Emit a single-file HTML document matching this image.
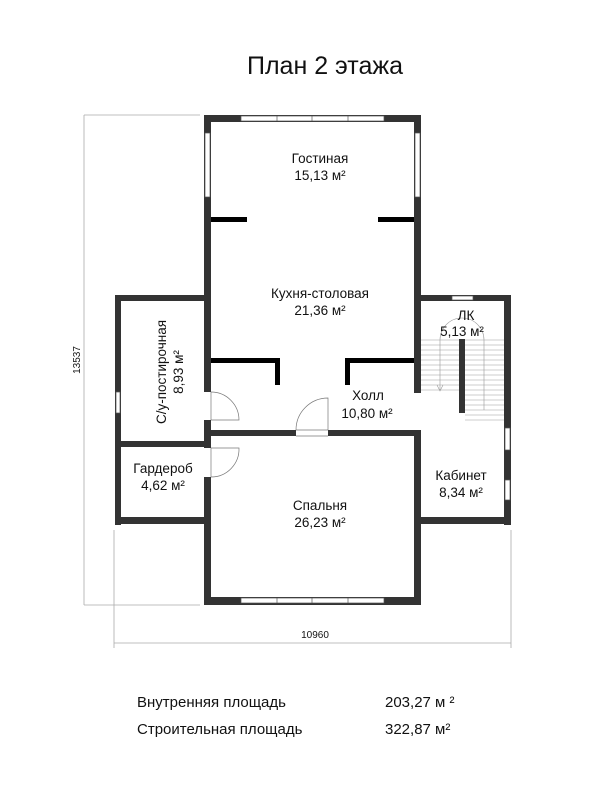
<!DOCTYPE html>
<html><head><meta charset="utf-8"><style>
html,body{margin:0;padding:0;background:#fff;}
svg{display:block;}
text{font-family:"Liberation Sans",sans-serif;fill:#111;}
</style></head><body>
<svg width="600" height="800" viewBox="0 0 600 800" xmlns="http://www.w3.org/2000/svg">
<rect width="600" height="800" fill="#fff"/>
<text x="325" y="74" font-size="25" text-anchor="middle">План 2 этажа</text>

<!-- dimension lines -->
<g stroke="#aaa" stroke-width="0.8" fill="none">
<line x1="84" y1="115" x2="84" y2="605"/>
<line x1="84" y1="115" x2="200" y2="115"/>
<line x1="84" y1="605" x2="200" y2="605"/>
<line x1="114" y1="530" x2="114" y2="648"/>
<line x1="511" y1="530" x2="511" y2="648"/>
<line x1="114" y1="643" x2="511" y2="643"/>
</g>
<text transform="translate(80,360) rotate(-90)" font-size="10" text-anchor="middle">13537</text>
<text x="315" y="638" font-size="10" text-anchor="middle">10960</text>

<!-- outer walls -->
<g fill="#333">
<rect x="204" y="115" width="217" height="7"/>
<rect x="204" y="115" width="7" height="277"/>
<rect x="204" y="420" width="7" height="28"/>
<rect x="204" y="477" width="7" height="128"/>
<rect x="414" y="115" width="7" height="278"/>
<rect x="414" y="430" width="7" height="175"/>
<rect x="204" y="597" width="217" height="8"/>
<rect x="115" y="295" width="96" height="6"/>
<rect x="115" y="295" width="6" height="230"/>
<rect x="115" y="517" width="96" height="7"/>
<rect x="414" y="295" width="97" height="6"/>
<rect x="504" y="295" width="7" height="230"/>
<rect x="414" y="517" width="97" height="7"/>
<rect x="121" y="441" width="83" height="6"/>
<rect x="211" y="430" width="85" height="6"/>
<rect x="328" y="430" width="86" height="6"/>
<rect x="459" y="339" width="6" height="74"/>
</g>
<g fill="#000">
<rect x="211" y="217" width="36" height="5"/>
<rect x="378" y="217" width="36" height="5"/>
<rect x="211" y="358" width="69" height="5"/>
<rect x="275" y="358" width="5" height="27"/>
<rect x="345" y="358" width="69" height="5"/>
<rect x="345" y="358" width="5" height="27"/>
<rect x="409" y="358" width="5" height="5"/>
</g>

<!-- windows -->
<g fill="#fff" stroke="#555" stroke-width="0.7">
<rect x="241" y="116" width="143" height="5"/>
<rect x="241" y="598" width="143" height="5"/>
<rect x="205" y="133" width="5" height="64"/>
<rect x="415" y="133" width="5" height="64"/>
<rect x="452" y="296" width="21" height="4"/>
<rect x="116" y="392" width="4" height="21"/>
<rect x="505" y="428" width="5" height="22"/>
<rect x="505" y="480" width="5" height="20"/>
</g>
<g stroke="#555" stroke-width="0.7">
<line x1="277" y1="116" x2="277" y2="121"/><line x1="312" y1="116" x2="312" y2="121"/><line x1="348" y1="116" x2="348" y2="121"/>
<line x1="277" y1="598" x2="277" y2="603"/><line x1="312" y1="598" x2="312" y2="603"/><line x1="348" y1="598" x2="348" y2="603"/>
</g>

<!-- doors -->
<g fill="none" stroke="#777" stroke-width="0.7">
<line x1="211" y1="392" x2="211" y2="420"/>
<path d="M211 392 A28 28 0 0 1 239 420 L211 420"/>
<line x1="211" y1="448" x2="211" y2="477"/>
<path d="M211 448 L239 448 A28 28 0 0 1 211 477"/>
<line x1="296" y1="430" x2="328" y2="430"/><line x1="296" y1="436" x2="328" y2="436"/>
<path d="M296 430 A32 32 0 0 1 328 398 L328 430"/>
</g>

<!-- stairs -->
<g stroke="#999" stroke-width="0.6" fill="none">
<line x1="421" y1="340" x2="459" y2="340"/><line x1="421" y1="345" x2="459" y2="345"/><line x1="421" y1="350" x2="459" y2="350"/>
<line x1="421" y1="355" x2="459" y2="355"/><line x1="421" y1="360" x2="459" y2="360"/><line x1="421" y1="365" x2="459" y2="365"/>
<line x1="421" y1="370" x2="459" y2="370"/><line x1="421" y1="375" x2="459" y2="375"/><line x1="421" y1="380" x2="459" y2="380"/>
<line x1="421" y1="385" x2="459" y2="385"/><line x1="421" y1="390" x2="459" y2="390"/>
<line x1="465" y1="340" x2="504" y2="340"/><line x1="465" y1="345" x2="504" y2="345"/><line x1="465" y1="350" x2="504" y2="350"/>
<line x1="465" y1="355" x2="504" y2="355"/><line x1="465" y1="360" x2="504" y2="360"/><line x1="465" y1="365" x2="504" y2="365"/>
<line x1="465" y1="370" x2="504" y2="370"/><line x1="465" y1="375" x2="504" y2="375"/><line x1="465" y1="380" x2="504" y2="380"/>
<line x1="465" y1="385" x2="504" y2="385"/><line x1="465" y1="390" x2="504" y2="390"/><line x1="465" y1="395" x2="504" y2="395"/>
<line x1="465" y1="400" x2="504" y2="400"/><line x1="465" y1="405" x2="504" y2="405"/><line x1="465" y1="410" x2="504" y2="410"/>
<line x1="465" y1="415" x2="504" y2="415"/><line x1="465" y1="420" x2="504" y2="420"/>
<path d="M440 390 L440 340 A22 22 0 0 1 484 340 L484 410"/>
<path d="M437 385 L440 391 L443 385"/>
</g>

<!-- labels -->
<g font-size="13.5" text-anchor="middle">
<text x="320" y="163">Гостиная</text><text x="320" y="180">15,13 м²</text>
<text x="320" y="298">Кухня-столовая</text><text x="320" y="315">21,36 м²</text>
<text x="466" y="320">ЛК</text><text x="462" y="336">5,13 м²</text>
<text x="368" y="400">Холл</text><text x="367" y="418">10,80 м²</text>
<text transform="translate(166,372) rotate(-90)">С/у-постирочная</text>
<text transform="translate(183,372) rotate(-90)">8,93 м²</text>
<text x="163" y="473">Гардероб</text><text x="163" y="490">4,62 м²</text>
<text x="461" y="480">Кабинет</text><text x="461" y="497">8,34 м²</text>
<text x="320" y="510">Спальня</text><text x="320" y="527">26,23 м²</text>
</g>

<g font-size="15">
<text x="137" y="707">Внутренняя площадь</text><text x="385" y="707">203,27 м ²</text>
<text x="137" y="734">Строительная площадь</text><text x="385" y="734">322,87  м²</text>
</g>
</svg>
</body></html>
